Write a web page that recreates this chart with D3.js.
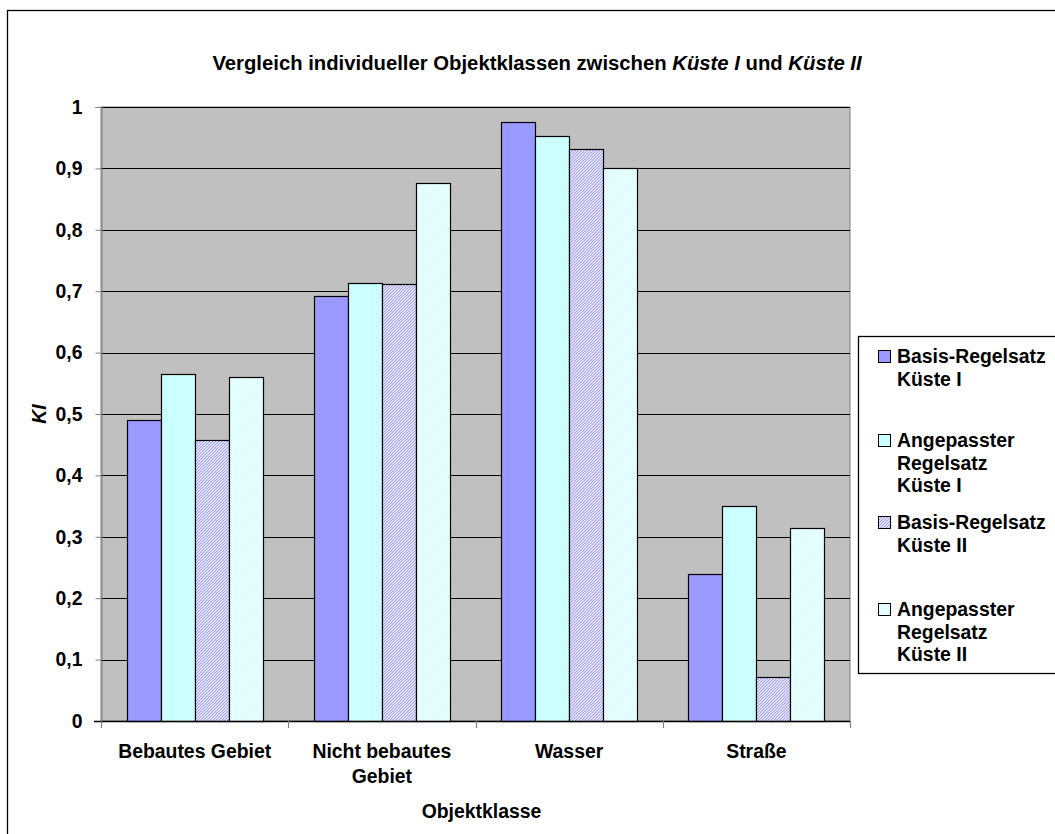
<!DOCTYPE html>
<html><head><meta charset="utf-8">
<script src="https://cdn.jsdelivr.net/npm/d3@7"></script>
<style>
html,body{margin:0;padding:0;background:#fff;}
svg text{font-family:"Liberation Sans",Arial,sans-serif;font-weight:bold;fill:#000;}
</style></head>
<body><svg id="chart" width="1055" height="834"></svg>
<script>
// ---- data ----
const categories = [["Bebautes Gebiet"], ["Nicht bebautes", "Gebiet"], ["Wasser"], ["Straße"]];
const seriesNames = [
  ["Basis-Regelsatz", "Küste I"],
  ["Angepasster", "Regelsatz", "Küste I"],
  ["Basis-Regelsatz", "Küste II"],
  ["Angepasster", "Regelsatz", "Küste II"]
];
const basisK1 = [0.49, 0.692, 0.975, 0.24];
const angepK1 = [0.565, 0.713, 0.952, 0.35];
const basisK2 = [0.457, 0.711, 0.932, 0.071];
const angepK2 = [0.56, 0.876, 0.90, 0.315];
const yTicks = [0, 0.1, 0.2, 0.3, 0.4, 0.5, 0.6, 0.7, 0.8, 0.9, 1];
const titleParts = [["Vergleich individueller Objektklassen zwischen ", false], ["Küste I", true], [" und ", false], ["Küste II", true]];
const yTitle = "KI";
const xTitle = "Objektklasse";

const series = [basisK1, angepK1, basisK2, angepK2];

// ---- layout ----
const svg = d3.select("#chart");
const FS = 19.4;
const plot = {left: 101, right: 850, top: 107, bottom: 721};

// outer chart border
svg.append("rect").attr("x", 7.5).attr("y", 10.5).attr("width", 1100).attr("height", 900)
  .attr("fill", "#fff").attr("stroke", "#000").attr("stroke-width", 1.3);

// patterns
const defs = svg.append("defs");
function hatch(id, color) {
  const p = defs.append("pattern").attr("id", id).attr("patternUnits", "userSpaceOnUse")
    .attr("width", 3).attr("height", 3);
  p.append("rect").attr("width", 3).attr("height", 3).attr("fill", "#fff");
  p.append("path").attr("d", "M-1,1 l2,-2 M0,3 l3,-3 M2,4 l2,-2").attr("stroke", color).attr("stroke-width", 1.1);
}
hatch("hatchPurple", "#9999FF");
hatch("hatchCyan", "#CCFFFF");

const fills = ["#9999FF", "#CCFFFF", "url(#hatchPurple)", "url(#hatchCyan)"];

// scales
const n = categories.length;
const pInner = 1 - 136 / ((plot.right - plot.left) / n);
const x = d3.scaleBand().domain(d3.range(n)).range([plot.left, plot.right])
  .paddingInner(pInner).paddingOuter(pInner / 2);
const xs = d3.scaleBand().domain(d3.range(series.length)).range([0, x.bandwidth()]);
const y = d3.scaleLinear().domain([0, 1]).range([plot.bottom, plot.top]);

// plot background
svg.append("rect").attr("x", plot.left).attr("y", plot.top)
  .attr("width", plot.right - plot.left).attr("height", plot.bottom - plot.top)
  .attr("fill", "#C0C0C0").attr("stroke", "#808080").attr("stroke-width", 1);

// gridlines
svg.append("g").selectAll("line").data(yTicks.filter(d => d > 0)).join("line")
  .attr("x1", plot.left).attr("x2", plot.right)
  .attr("y1", d => Math.round(y(d)) + 0.5).attr("y2", d => Math.round(y(d)) + 0.5)
  .attr("stroke", "#000").attr("stroke-width", 1);

// bars
const groups = svg.append("g").selectAll("g").data(series).join("g");
groups.each(function(vals, si) {
  d3.select(this).selectAll("rect").data(vals).join("rect")
    .attr("x", (d, ci) => Math.round(x(ci) + xs(si)) + 0.5)
    .attr("y", d => Math.round(y(d)) + 0.5)
    .attr("width", Math.round(xs.bandwidth()))
    .attr("height", d => Math.round(y(0)) - Math.round(y(d)))
    .attr("fill", fills[si])
    .attr("stroke", "#000").attr("stroke-width", 1.2);
});

// y axis
const fmt = d3.formatLocale({decimal: ",", thousands: ".", grouping: [3], currency: ["", "€"]}).format("~g");
const yAxis = d3.axisLeft(y).tickValues(yTicks).tickSize(6).tickPadding(13).tickFormat(d => fmt(d));
const gy = svg.append("g").attr("transform", `translate(${plot.left + 0.5},0)`).call(yAxis);
gy.select(".domain").attr("stroke", "#808080");
gy.selectAll(".tick line").attr("stroke", "#808080");
gy.selectAll("text").attr("font-size", FS).attr("font-family", '"Liberation Sans",Arial,sans-serif').attr("font-weight", "bold").attr("fill", "#000");

// x axis line + ticks at boundaries
svg.append("line").attr("x1", plot.left - 7).attr("x2", plot.right)
  .attr("y1", plot.bottom + 0.5).attr("y2", plot.bottom + 0.5).attr("stroke", "#000").attr("stroke-width", 1.3);
const step = x.step();
svg.append("g").selectAll("line").data(d3.range(n + 1)).join("line")
  .attr("x1", i => Math.round(plot.left + i * step) + 0.5).attr("x2", i => Math.round(plot.left + i * step) + 0.5)
  .attr("y1", plot.bottom).attr("y2", plot.bottom + 7).attr("stroke", "#808080").attr("stroke-width", 1.2);

// category labels
const cl = svg.append("g").selectAll("text").data(categories).join("text")
  .attr("text-anchor", "middle").attr("font-size", FS)
  .attr("transform", (d, i) => `translate(${x(i) + x.bandwidth() / 2},758)`);
cl.selectAll("tspan").data(d => d).join("tspan")
  .attr("x", 0).attr("dy", (d, i) => i === 0 ? 0 : 25).text(d => d);

// axis titles
svg.append("text").attr("x", (plot.left + plot.right) / 2 + 6).attr("y", 818)
  .attr("text-anchor", "middle").attr("font-size", FS).text(xTitle);
svg.append("text").attr("transform", `translate(46,${(plot.top + plot.bottom) / 2}) rotate(-90)`)
  .attr("text-anchor", "middle").attr("font-size", FS).attr("font-style", "italic").text(yTitle);

// title
const t = svg.append("text").attr("x", 537).attr("y", 70).attr("text-anchor", "middle").attr("font-size", 20.3);
t.selectAll("tspan").data(titleParts).join("tspan")
  .attr("font-style", d => d[1] ? "italic" : "normal").text(d => d[0]);

// legend
const lg = svg.append("g");
lg.append("rect").attr("x", 858.5).attr("y", 336.5).attr("width", 300).attr("height", 337)
  .attr("fill", "#fff").attr("stroke", "#000").attr("stroke-width", 1.3);
const legendBase = [363, 447, 529, 616];
const items = lg.selectAll("g.item").data(seriesNames).join("g").attr("class", "item")
  .attr("transform", (d, i) => `translate(0,${legendBase[i]})`);
items.append("rect").attr("x", 878.5).attr("y", -12.5).attr("width", 12).attr("height", 12)
  .attr("fill", (d, i) => fills[i]).attr("stroke", "#000").attr("stroke-width", 1);
items.append("text").attr("font-size", FS)
  .selectAll("tspan").data(d => d).join("tspan")
  .attr("x", 897).attr("dy", (d, i) => i === 0 ? 0 : 22.5).text(d => d);
</script>
</body></html>
